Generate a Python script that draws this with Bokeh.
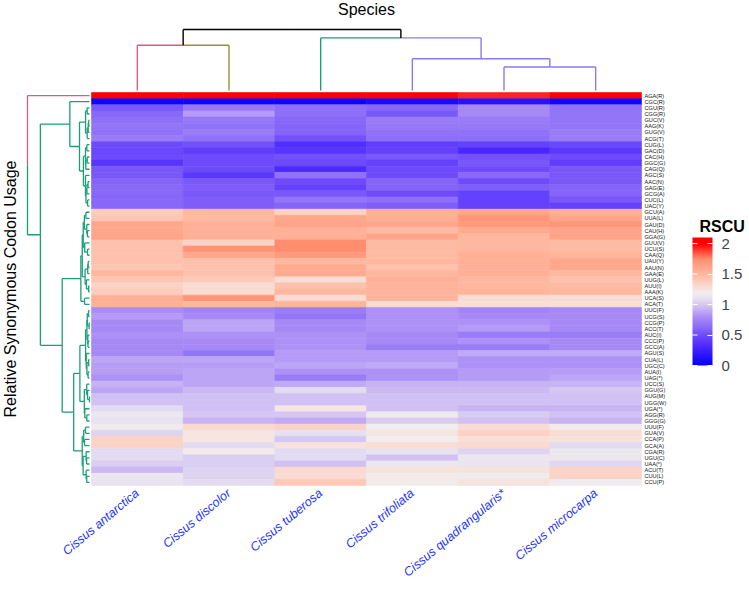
import numpy as np
from bokeh.plotting import figure
from bokeh.models import (ColumnDataSource, Range1d, LinearColorMapper, ColorBar,
                          FixedTicker, CustomJSTickFormatter)
from bokeh.transform import transform
from bokeh.core.properties import value
from bokeh.embed import file_html
from bokeh.resources import INLINE

# ---------------- data ----------------
species = ["Cissus antarctica", "Cissus discolor", "Cissus tuberosa",
           "Cissus trifoliata", "Cissus quadrangularis*", "Cissus microcarpa"]

codons = ["AGA(R)", "CGC(R)", "CGU(R)", "CGG(R)", "GUC(V)", "AAG(K)", "GUG(V)", "ACG(T)",
          "CUG(L)", "GAC(D)", "CAC(H)", "GGC(G)", "CAG(Q)", "AGC(S)", "AAC(N)", "GAG(E)",
          "GCG(A)", "CUC(L)", "UAC(Y)", "GCU(A)", "UUA(L)", "GAU(D)", "CAU(H)", "GGA(G)",
          "GUU(V)", "UCU(S)", "CAA(Q)", "UAU(Y)", "AAU(N)", "GAA(E)", "UUG(L)", "AUU(I)",
          "AAA(K)", "UCA(S)", "ACA(T)", "UUC(F)", "UCG(S)", "CCG(P)", "ACC(T)", "AUC(I)",
          "CCC(P)", "GCC(A)", "AGU(S)", "CUA(L)", "UGC(C)", "AUA(I)", "UAG(*)", "UCC(S)",
          "GGU(G)", "AUG(M)", "UGG(W)", "UGA(*)", "AGG(R)", "GGG(G)", "UUU(F)", "GUA(V)",
          "CCA(P)", "GCA(A)", "CGA(R)", "UGU(C)", "UAA(*)", "ACU(T)", "CUU(L)", "CCU(P)"]

antarctica = [2.05, 0.05, 0.55, 0.62, 0.65, 0.68, 0.66, 0.72, 0.50, 0.48, 0.50, 0.38, 0.55, 0.55, 0.60, 0.62,
              0.62, 0.62, 0.62, 1.38, 1.42, 1.60, 1.60, 1.62, 1.45, 1.45, 1.45, 1.45, 1.42, 1.50, 1.42, 1.35,
              1.38, 1.55, 1.55, 0.80, 0.85, 0.78, 0.78, 0.82, 0.78, 0.78, 0.78, 0.88, 0.86, 0.86, 0.82, 0.92,
              0.88, 0.97, 0.97, 1.08, 1.15, 1.12, 1.18, 1.05, 1.35, 1.35, 1.08, 1.08, 1.03, 0.95, 1.15, 1.12]
discolor = [2.05, 0.05, 0.70, 0.85, 0.70, 0.66, 0.72, 0.66, 0.52, 0.42, 0.50, 0.50, 0.50, 0.40, 0.55, 0.58,
            0.55, 0.58, 0.58, 1.50, 1.48, 1.55, 1.55, 1.55, 1.35, 1.72, 1.60, 1.45, 1.45, 1.45, 1.40, 1.30,
            1.30, 1.72, 1.50, 0.76, 0.78, 0.88, 0.88, 0.82, 0.78, 0.78, 0.68, 0.88, 0.86, 0.88, 0.88, 0.88,
            0.95, 0.97, 0.97, 0.97, 1.00, 0.93, 1.32, 1.25, 1.25, 1.08, 1.22, 1.03, 1.03, 1.05, 1.05, 1.08]
tuberosa = [2.05, 0.05, 0.65, 0.65, 0.62, 0.60, 0.60, 0.52, 0.35, 0.38, 0.52, 0.50, 0.32, 0.66, 0.50, 0.45,
            0.55, 0.68, 0.60, 1.35, 1.60, 1.62, 1.55, 1.55, 1.75, 1.75, 1.68, 1.50, 1.58, 1.58, 1.30, 1.45,
            1.50, 1.30, 1.52, 0.72, 0.68, 0.78, 0.78, 0.82, 0.82, 0.82, 0.85, 0.85, 0.88, 0.82, 0.72, 0.90,
            1.08, 0.97, 0.97, 1.25, 1.00, 0.90, 1.35, 1.10, 1.00, 1.27, 1.08, 1.08, 0.97, 1.32, 1.30, 1.40]
trifoliata = [2.05, 0.10, 0.62, 0.55, 0.72, 0.70, 0.66, 0.64, 0.42, 0.45, 0.55, 0.45, 0.50, 0.50, 0.60, 0.60,
              0.50, 0.65, 0.58, 1.55, 1.55, 1.60, 1.48, 1.62, 1.48, 1.48, 1.48, 1.50, 1.45, 1.50, 1.55, 1.52,
              1.52, 1.52, 1.30, 0.82, 0.82, 0.82, 0.82, 0.78, 0.78, 0.72, 0.85, 0.85, 0.90, 0.82, 0.82, 0.92,
              0.95, 0.97, 0.97, 0.97, 1.17, 1.02, 1.20, 1.24, 1.20, 1.30, 1.12, 0.98, 1.15, 1.27, 1.22, 1.22]
quadrangularis = [1.93, 0.15, 0.78, 0.78, 0.72, 0.70, 0.66, 0.64, 0.45, 0.30, 0.52, 0.55, 0.50, 0.62, 0.50, 0.58,
                  0.45, 0.45, 0.45, 1.60, 1.70, 1.68, 1.58, 1.50, 1.50, 1.50, 1.55, 1.55, 1.55, 1.55, 1.50, 1.50,
                  1.52, 1.30, 1.28, 0.76, 0.78, 0.82, 0.85, 0.72, 0.82, 0.72, 0.90, 0.82, 0.82, 0.85, 0.85, 0.92,
                  0.95, 0.97, 0.97, 0.93, 1.02, 0.97, 1.30, 1.35, 1.28, 1.32, 1.05, 1.15, 1.14, 1.26, 1.18, 1.26]
microcarpa = [2.05, 0.06, 0.66, 0.68, 0.68, 0.68, 0.72, 0.72, 0.48, 0.40, 0.50, 0.42, 0.55, 0.55, 0.55, 0.60,
              0.60, 0.55, 0.45, 1.55, 1.60, 1.70, 1.62, 1.62, 1.48, 1.48, 1.52, 1.60, 1.60, 1.50, 1.45, 1.48,
              1.50, 1.30, 1.28, 0.78, 0.78, 0.78, 0.78, 0.72, 0.78, 0.78, 0.90, 0.82, 0.82, 0.86, 0.88, 0.93,
              1.00, 0.97, 0.97, 0.93, 0.98, 0.93, 1.22, 1.30, 1.26, 1.08, 1.15, 1.15, 1.06, 1.35, 1.35, 1.18]

series = [antarctica, discolor, tuberosa, trifoliata, quadrangularis, microcarpa]

# column dendrogram (scipy-like linkage: child a, child b, height); new nodes numbered from 6
col_merges = [(4, 5, 2.35), (3, 6, 3.18), (0, 1, 4.53), (2, 7, 5.26), (8, 9, 6.10)]

PINK, OLIVE, TEAL, PURPLE = "#DA5C82", "#939330", "#1B9E77", "#8A7BEB"
col_leaf_colors = [PINK, OLIVE, TEAL, PURPLE, PURPLE, PURPLE]

# colour scale
anchor_vals = [0.0, 0.3, 0.5, 0.65, 0.8, 0.95, 1.1, 1.2, 1.3, 1.5, 1.75, 2.0]
anchor_cols = ["#0000FF", "#4A25FF", "#6E4CFA", "#8E70F8", "#AA8CF6", "#CDBAF4",
               "#E6E0F0", "#F2EEEE", "#F9DCD3", "#FFB8A0", "#FF8F70", "#FF0000"]
LOW, HIGH = 0.0, 2.1
legend_ticks = [0, 0.5, 1, 1.5, 2]

# ---------------- layout (page pixels) ----------------
W, H = 749, 596
HM_L, HM_R, HM_T, HM_B = 91, 641, 92, 485
ncol, nrow = len(species), len(codons)
ppc = (HM_R - HM_L) / ncol
ppr = (HM_B - HM_T) / nrow

def px2x(px):
    return (px - HM_L) / ppc

def px2y(py):
    return nrow - (py - HM_T) / ppr

x_start = px2x(0)
y_end = px2y(0)
x_range = Range1d(x_start, x_start + W / ppc)
y_range = Range1d(y_end - H / ppr, y_end)

# ---------------- palette ----------------
def hex2rgb(h):
    return np.array([int(h[i:i + 2], 16) for i in (1, 3, 5)], float)

av = np.array(anchor_vals)
ac = np.array([hex2rgb(c) for c in anchor_cols])
vals = np.linspace(LOW, HIGH, 256)
palette = []
for v in vals:
    rgb = [np.interp(v, av, ac[:, k]) for k in range(3)]
    palette.append("#%02x%02x%02x" % tuple(int(round(c)) for c in rgb))
mapper = LinearColorMapper(palette=palette, low=LOW, high=HIGH)

# ---------------- figure ----------------
p = figure(width=W, height=H, x_range=x_range, y_range=y_range,
           output_backend="svg", toolbar_location=None,
           x_axis_location=None, y_axis_location=None, min_border=0)
p.grid.visible = False
p.outline_line_color = None

# heatmap cells
M = np.array(series).T  # nrow x ncol
xs, ys, vs = [], [], []
for i in range(nrow):
    for j in range(ncol):
        xs.append(j + 0.5)
        ys.append(nrow - i - 0.5)
        vs.append(M[i, j])
src = ColumnDataSource(dict(x=xs, y=ys, v=vs))
p.rect(x="x", y="y", width=1, height=1, source=src,
       fill_color=transform("v", mapper), line_color=transform("v", mapper), line_width=0.6)

# ---------------- dendrogram helpers ----------------
def dendro_segments(merges, leaf_pos, leaf_colors):
    n = len(leaf_pos)
    pos = {i: leaf_pos[i] for i in range(n)}
    hgt = {i: 0.0 for i in range(n)}
    col = {i: leaf_colors[i] for i in range(n)}
    segs = []
    for k, (a, b, h) in enumerate(merges):
        nid = n + k
        pos[nid] = (pos[a] + pos[b]) / 2.0
        hgt[nid] = h
        col[nid] = col[a] if col[a] == col[b] else "black"
        for c in (a, b):
            segs.append((pos[nid], h, pos[c], h, col[c]))
            segs.append((pos[c], h, pos[c], hgt[c], col[c]))
    return segs

# column dendrogram
csegs = dendro_segments(col_merges, [j + 0.5 for j in range(ncol)], col_leaf_colors)
cbase = px2y(90)
chmax = max(m[2] for m in col_merges)
cscale = (90 - 29) / ppr / chmax
p.segment(x0=[s[0] for s in csegs], y0=[cbase + s[1] * cscale for s in csegs],
          x1=[s[2] for s in csegs], y1=[cbase + s[3] * cscale for s in csegs],
          line_color=[s[4] for s in csegs], line_width=1.4)

# row dendrogram: order-preserving complete-linkage clustering of the rows
D = np.sqrt(((M[:, None, :] - M[None, :, :]) ** 2).sum(-1))
clusters = [(i, [i], 0.0) for i in range(nrow)]
row_merges = []
nid = nrow
while len(clusters) > 1:
    best = None
    for j in range(len(clusters) - 1):
        d = D[np.ix_(clusters[j][1], clusters[j + 1][1])].max()
        if best is None or d < best[0]:
            best = (d, j)
    d, j = best
    A, B = clusters[j], clusters[j + 1]
    h = max(d, A[2], B[2])
    row_merges.append((A[0], B[0], h))
    clusters[j:j + 2] = [(nid, A[1] + B[1], h)]
    nid += 1

row_leaf_colors = [PINK] + [TEAL] * (nrow - 1)
rsegs = dendro_segments(row_merges, [nrow - i - 0.5 for i in range(nrow)], row_leaf_colors)
rbase = px2x(89)
rhmax = max(m[2] for m in row_merges)
rscale = (89 - 27) / ppc / rhmax
p.segment(x0=[rbase - s[1] * rscale for s in rsegs], y0=[s[0] for s in rsegs],
          x1=[rbase - s[3] * rscale for s in rsegs], y1=[s[2] for s in rsegs],
          line_color=[s[4] for s in rsegs], line_width=1.3)

# ---------------- texts ----------------
FONT = value("Liberation Sans")
p.text(x=[px2x(HM_R + 3)] * nrow, y=[nrow - i - 0.5 for i in range(nrow)], text=codons,
       text_font=FONT, text_font_size="5.6px", text_color="#111111",
       text_align="left", text_baseline="middle")

p.text(x=[j + 0.5 for j in range(ncol)], y=[px2y(HM_B + 6)] * ncol, text=species,
       angle=np.deg2rad(40), text_font=FONT, text_font_size="12.5px", text_font_style="italic",
       text_color="#2233ff", text_align="right", text_baseline="middle")

p.text(x=[ncol / 2], y=[px2y(9)], text=["Species"], text_font=FONT, text_font_size="16px",
       text_color="black", text_align="center", text_baseline="middle")

p.text(x=[px2x(10)], y=[px2y((HM_T + HM_B) / 2)], text=["Relative Synonymous Codon Usage"],
       angle=np.pi / 2, text_font=FONT, text_font_size="16px", text_color="black",
       text_align="center", text_baseline="middle")

# ---------------- colour legend ----------------
BAR_L, BAR_T, BAR_W, BAR_H = 692, 237, 20, 128
p.text(x=[px2x(BAR_L + 7)], y=[px2y(BAR_T - 11)], text=["RSCU"], text_font=FONT,
       text_font_size="16px", text_font_style="bold", text_color="black",
       text_align="left", text_baseline="alphabetic")

cb = ColorBar(color_mapper=mapper, ticker=FixedTicker(ticks=legend_ticks),
              formatter=CustomJSTickFormatter(code="return tick.toString()"),
              width=BAR_W, height=BAR_H, location=(BAR_L, H - BAR_T - BAR_H), padding=0,
              major_label_text_font_size="15px", major_label_text_font="Liberation Sans",
              label_standoff=9, major_tick_line_color="white", major_tick_in=5,
              major_tick_out=0, bar_line_color=None, border_line_color=None,
              background_fill_alpha=0)
p.add_layout(cb)

# white tick marks on the left edge of the legend bar
tick_py = [BAR_T + BAR_H - (t - LOW) / (HIGH - LOW) * BAR_H for t in legend_ticks]
p.segment(x0=[px2x(BAR_L)] * len(tick_py), y0=[px2y(t) for t in tick_py],
          x1=[px2x(BAR_L + 5)] * len(tick_py), y1=[px2y(t) for t in tick_py],
          line_color="white", line_width=1, level="overlay")

open("out.html", "w").write(file_html(p, INLINE))
